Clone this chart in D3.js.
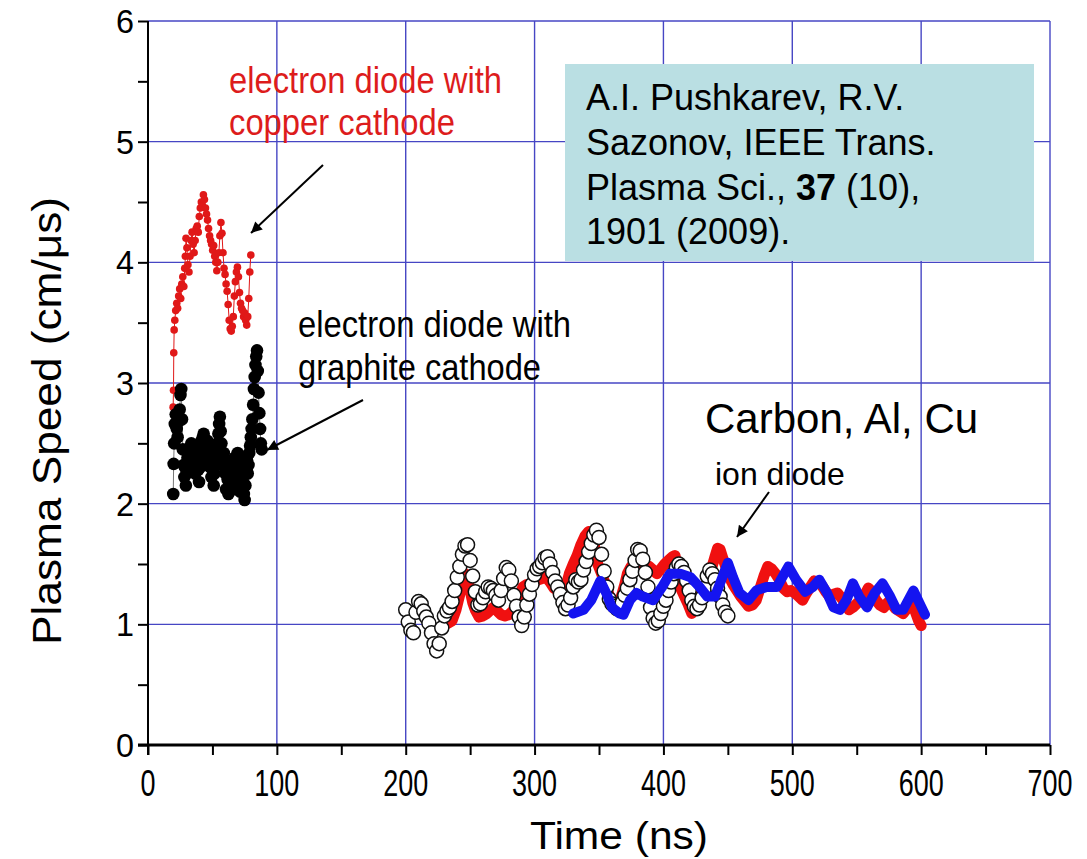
<!DOCTYPE html>
<html lang="en">
<title>Plasma Speed</title>
<meta charset="UTF-8">
<style>
body {margin:0; background:#fff}
svg {font-family: "Liberation Sans", Arial, sans-serif}
</style>
<script src="https://d3js.org/d3.v7.min.js"></script>
<body>
<div id="my_dataviz"></div>
<script>

// electron diode, copper cathode (small red dots)
var copperTime  = [19.5,19.8,20.0,20.3,20.8,21.5,22.3,23.0,23.8,24.6,25.4,26.2,27.0,27.8,28.5,29.0,29.5,30.2,31.0,31.8,32.6,33.4,34.2,35.0,35.8,36.6,37.4,38.2,39.0,39.8,40.6,41.4,42.2,43.0,43.8,44.6,45.4,46.2,47.0,47.8,48.6,49.4,50.2,51.0,51.8,52.6,53.4,54.2,55.0,55.8,56.6,57.4,58.2,59.0,59.8,60.6,61.4,62.2,63.0,63.8,64.6,65.4,66.2,67.0,67.8,68.6,69.4,70.2,71.0,71.8,72.6,73.4,74.2,75.0,75.8,76.6,77.4,78.2,79.0,79.8];
var copperSpeed = [2.80,2.94,3.25,3.44,3.52,3.60,3.66,3.62,3.72,3.78,3.70,3.82,3.88,3.80,3.95,4.05,4.20,4.12,3.98,3.92,4.05,4.18,4.25,4.15,4.08,4.18,4.28,4.30,4.25,4.38,4.45,4.50,4.47,4.56,4.52,4.45,4.40,4.35,4.28,4.22,4.18,4.15,4.10,4.14,4.05,4.00,3.93,4.00,4.08,4.22,4.33,4.24,4.08,3.95,3.90,3.82,3.76,3.65,3.52,3.45,3.43,3.47,3.55,3.72,3.84,3.92,3.96,3.88,3.75,3.66,3.62,3.60,3.55,3.58,3.52,3.48,3.55,3.70,3.92,4.06];

// electron diode, graphite cathode (big black dots)
var graphiteTime  = [19.6,19.9,20.3,20.8,21.5,22.3,23.0,23.8,24.6,25.2,25.8,26.4,27.0,27.6,28.2,28.8,29.4,30.0,30.6,31.2,31.8,32.4,33.0,33.6,34.2,34.8,35.4,36.0,36.6,37.2,37.8,38.4,39.0,39.6,40.2,40.8,41.4,42.0,42.6,43.2,43.8,44.4,45.0,45.6,46.2,46.8,47.4,48.0,48.6,49.2,49.8,50.4,51.0,51.6,52.2,52.8,53.4,54.0,54.6,55.2,55.8,56.4,57.0,57.6,58.2,58.8,59.4,60.0,60.6,61.2,61.8,62.4,63.0,63.6,64.2,64.8,65.4,66.0,66.6,67.2,67.8,68.4,69.0,69.6,70.2,70.8,71.4,72.0,72.6,73.2,73.8,74.4,75.0,75.6,76.2,76.8,77.4,78.0,78.6,79.2,79.8,80.4,81.0,81.6,82.2,82.8,83.4,84.0,84.6,85.2,85.8,86.4,87.0,87.6,88.2];
var graphiteSpeed = [2.08,2.33,2.50,2.66,2.74,2.62,2.55,2.68,2.78,2.90,2.95,2.70,2.45,2.32,2.22,2.30,2.15,2.25,2.38,2.42,2.30,2.36,2.45,2.50,2.40,2.30,2.42,2.35,2.25,2.40,2.48,2.38,2.28,2.18,2.30,2.42,2.52,2.45,2.55,2.58,2.48,2.40,2.32,2.45,2.52,2.42,2.35,2.48,2.30,2.22,2.38,2.28,2.15,2.25,2.40,2.32,2.45,2.50,2.58,2.66,2.72,2.60,2.50,2.40,2.32,2.42,2.35,2.25,2.12,2.28,2.20,2.08,2.18,2.30,2.22,2.35,2.25,2.12,2.28,2.38,2.25,2.15,2.30,2.42,2.32,2.20,2.10,2.25,2.38,2.30,2.18,2.08,2.03,2.15,2.28,2.36,2.25,2.32,2.42,2.48,2.55,2.62,2.70,2.82,2.95,3.05,3.15,3.22,3.27,3.10,2.92,2.75,2.62,2.50,2.45];

// ion diode, carbon (open circles)
var carbonTime  = [200,202,204,206,208,210,212,214,216,218,220,222,224,226,228,230,232,234,236,238,240,242,244,246,248,250,252,254,256,258,260,262,264,266,268,270,272,274,276,278,280,282,284,286,288,290,292,294,296,298,300,302,304,306,308,310,312,314,316,318,320,322,324,326,328,330,332,334,336,338,340,342,344,346,348,350,352,354,356,358,360,362,364,366,368,370,372,374,376,378,380,382,384,386,388,390,392,394,396,398,400,402,404,406,408,410,412,414,416,418,420,422,424,426,428,430,432,434,436,438,440,442,444,446,448,450];
var carbonSpeed = [1.12,1.02,0.95,0.93,1.10,1.19,1.17,1.11,1.06,1.01,0.93,0.84,0.78,0.84,0.97,1.07,1.11,1.14,1.19,1.28,1.39,1.48,1.58,1.65,1.66,1.53,1.40,1.27,1.16,1.17,1.22,1.27,1.31,1.30,1.28,1.24,1.20,1.28,1.38,1.47,1.45,1.36,1.24,1.15,1.06,0.99,1.06,1.16,1.25,1.33,1.41,1.46,1.48,1.51,1.55,1.56,1.50,1.43,1.36,1.31,1.25,1.18,1.13,1.16,1.22,1.31,1.37,1.35,1.37,1.45,1.52,1.60,1.67,1.74,1.78,1.72,1.58,1.44,1.31,1.21,1.17,1.15,1.13,1.14,1.18,1.24,1.30,1.37,1.44,1.53,1.62,1.61,1.54,1.43,1.31,1.14,1.05,1.01,1.03,1.09,1.15,1.20,1.28,1.35,1.42,1.47,1.50,1.48,1.43,1.36,1.28,1.20,1.15,1.13,1.16,1.22,1.30,1.40,1.45,1.42,1.37,1.30,1.23,1.16,1.10,1.07];

// ion diode, Cu (thick red)
var cuTime  = [233,236,239,242,244,246,248,250,252,254,257,260,263,266,268,271,274,277,280,283,285,287,289,291,294,297,300,303,306,309,312,315,318,321,324,327,330,333,336,339,342,345,347,349,352,355,358,361,364,367,370,372,375,377,380,383,386,389,392,395,398,401,404,407,409,411,413,416,419,422,424,426,429,431,434,437,440,442,444,446,448,451,454,457,460,463,466,469,472,475,478,481,484,487,490,493,496,499,502,505,508,511,514,517,520,523,526,529,532,535,538,541,544,547,550,553,556,559,562,565,568,571,574,577,580,583,586,589,592,595,598,600];
var cuSpeed = [1.01,1.03,1.12,1.25,1.38,1.42,1.38,1.28,1.18,1.12,1.06,1.07,1.09,1.12,1.14,1.11,1.08,1.07,1.08,1.11,1.14,1.20,1.26,1.31,1.33,1.33,1.35,1.37,1.38,1.39,1.35,1.30,1.28,1.28,1.30,1.42,1.50,1.57,1.66,1.73,1.77,1.74,1.62,1.50,1.42,1.33,1.24,1.19,1.17,1.22,1.33,1.42,1.48,1.50,1.47,1.45,1.47,1.48,1.45,1.42,1.46,1.50,1.53,1.56,1.57,1.46,1.31,1.24,1.17,1.09,1.15,1.20,1.25,1.28,1.36,1.45,1.56,1.63,1.62,1.55,1.49,1.39,1.33,1.28,1.23,1.19,1.15,1.16,1.20,1.30,1.40,1.48,1.46,1.42,1.37,1.30,1.27,1.28,1.26,1.23,1.20,1.26,1.31,1.36,1.35,1.32,1.27,1.23,1.25,1.26,1.22,1.18,1.12,1.14,1.17,1.20,1.24,1.30,1.27,1.20,1.16,1.14,1.18,1.17,1.13,1.11,1.09,1.13,1.17,1.12,1.03,0.99];

// ion diode, Al (thick blue)
var alTime  = [330,338,344,351,356,360,366,369,374,379,384,392,399,405,413,421,428,434,440,445,450,454,459,466,472,480,488,497,503,510,516,521,527,532,537,542,547,552,558,564,570,576,581,586,594,599,603];
var alSpeed = [1.09,1.12,1.20,1.36,1.25,1.14,1.09,1.08,1.20,1.26,1.23,1.20,1.31,1.42,1.42,1.39,1.31,1.23,1.23,1.37,1.51,1.39,1.26,1.20,1.28,1.31,1.31,1.48,1.37,1.27,1.31,1.37,1.26,1.14,1.12,1.20,1.34,1.23,1.14,1.26,1.34,1.23,1.12,1.12,1.28,1.17,1.08];

var xTicks = [0,100,200,300,400,500,600,700];
var yTicks = [0,1,2,3,4,5,6];

var width = 1087, height = 859;
var svg = d3.select("#my_dataviz").append("svg")
    .attr("width", width).attr("height", height);

var x = d3.scaleLinear().domain([0,700]).range([148,1050]);
var y = d3.scaleLinear().domain([0,6]).range([745,21]);

// grid
var grid = "#4646c4";
svg.selectAll("line.vg").data(xTicks.slice(1)).enter().append("line")
    .attr("x1", d => x(d)).attr("x2", d => x(d)).attr("y1", y(0)).attr("y2", y(6))
    .style("stroke", grid).style("stroke-width", 1.4);
svg.selectAll("line.hg").data(yTicks.slice(1)).enter().append("line")
    .attr("x1", x(0)).attr("x2", x(700)).attr("y1", d => y(d)).attr("y2", d => y(d))
    .style("stroke", grid).style("stroke-width", 1.4);

// axes
var xAxis = svg.append("g").attr("transform", "translate(0," + y(0) + ")")
    .call(d3.axisBottom(x).tickValues(d3.range(0, 701, 50)).tickSize(10).tickFormat(""));
var yAxis = svg.append("g").attr("transform", "translate(" + x(0) + ",0)")
    .call(d3.axisLeft(y).tickValues(d3.range(0, 6.01, 0.5)).tickSize(10).tickFormat(""));
xAxis.select(".domain").attr("d", "M" + (x(0) - 10) + ",0H" + x(700)).style("stroke-width", 3);
yAxis.select(".domain").attr("d", "M0," + (y(0) + 10) + "V" + y(6)).style("stroke-width", 2);
svg.selectAll(".tick line").style("stroke-width", 2);

svg.selectAll("text.xt").data(xTicks).enter().append("text")
    .attr("x", d => x(d)).attr("y", 796).attr("text-anchor", "middle")
    .attr("textLength", d => String(d).length * 15).attr("lengthAdjust", "spacingAndGlyphs")
    .style("font-size", "36px").text(d => d);
svg.selectAll("text.yt").data(yTicks).enter().append("text")
    .attr("x", 134).attr("y", d => y(d) + 12).attr("text-anchor", "end")
    .attr("textLength", 18).attr("lengthAdjust", "spacingAndGlyphs")
    .style("font-size", "33px").text(d => d);

// axis titles
svg.append("text").attr("transform", "translate(61,421) rotate(-90)")
    .attr("text-anchor", "middle").attr("textLength", 448).attr("lengthAdjust", "spacingAndGlyphs")
    .style("font-size", "40px").text("Plasma Speed (cm/\u03bcs)");
svg.append("text").attr("x", 619).attr("y", 849).attr("text-anchor", "middle")
    .attr("textLength", 178).attr("lengthAdjust", "spacingAndGlyphs")
    .style("font-size", "39px").text("Time (ns)");

function pts(t, v) { return t.map(function(d, i) { return [d, v[i]]; }); }
var line = d3.line().x(d => x(d[0])).y(d => y(d[1]));

// ion diode Cu
svg.append("path").datum(pts(cuTime, cuSpeed)).attr("d", line)
    .style("fill", "none").style("stroke", "#f01010").style("stroke-width", 11)
    .style("stroke-linejoin", "round").style("stroke-linecap", "round");

// ion diode carbon
svg.selectAll("circle.c").data(pts(carbonTime, carbonSpeed)).enter().append("circle")
    .attr("cx", d => x(d[0])).attr("cy", d => y(d[1])).attr("r", 7)
    .style("fill", "#fff").style("stroke", "#111").style("stroke-width", 1.5);

// ion diode Al
svg.append("path").datum(pts(alTime, alSpeed)).attr("d", line)
    .style("fill", "none").style("stroke", "#1414f0").style("stroke-width", 10)
    .style("stroke-linejoin", "round").style("stroke-linecap", "round");

// copper cathode
svg.append("path").datum(pts(copperTime, copperSpeed)).attr("d", line)
    .style("fill", "none").style("stroke", "#e01818").style("stroke-width", 1);
svg.selectAll("circle.cu").data(pts(copperTime, copperSpeed)).enter().append("circle")
    .attr("cx", d => x(d[0])).attr("cy", d => y(d[1])).attr("r", 3.8).style("fill", "#e01818");

// graphite cathode
svg.append("path").datum(pts(graphiteTime, graphiteSpeed)).attr("d", line)
    .style("fill", "none").style("stroke", "#777").style("stroke-width", 1);
svg.selectAll("circle.gr").data(pts(graphiteTime, graphiteSpeed)).enter().append("circle")
    .attr("cx", d => x(d[0])).attr("cy", d => y(d[1])).attr("r", 6.3).style("fill", "#000");

// arrows
svg.append("defs").append("marker").attr("id", "head")
    .attr("viewBox", "0 0 10 10").attr("refX", 10).attr("refY", 5)
    .attr("markerWidth", 20).attr("markerHeight", 11).attr("markerUnits", "userSpaceOnUse")
    .attr("orient", "auto")
  .append("path").attr("d", "M0,0L10,5L0,10z").style("fill", "#000");
var arrows = [[323,165,251,233],[363,400,267,450],[769,492,737,537]];
svg.selectAll("line.ar").data(arrows).enter().append("line")
    .attr("x1", d => d[0]).attr("y1", d => d[1]).attr("x2", d => d[2]).attr("y2", d => d[3])
    .style("stroke", "#000").style("stroke-width", 2).attr("marker-end", "url(#head)");

// labels
function label(txt, px, py, size, len, color) {
  var t = svg.append("text").attr("x", px).attr("y", py).style("font-size", size + "px")
      .style("fill", color || "#000").text(txt);
  if (len) t.attr("textLength", len).attr("lengthAdjust", "spacingAndGlyphs");
}
label("electron diode with", 229, 93, 36, 273, "#dd1c1c");
label("copper cathode", 229, 135, 36, 226, "#dd1c1c");
label("electron diode with", 298, 337, 36, 273);
label("graphite cathode", 298, 380, 36, 243);
label("Carbon, Al, Cu", 705, 433, 42);
label("ion diode", 715, 485, 32);

// reference box
svg.append("rect").attr("x", 565).attr("y", 64).attr("width", 469).attr("height", 197)
    .style("fill", "#badfe3");
var ref = svg.append("g").style("font-size", "36px");
ref.append("text").attr("x", 586).attr("y", 110).text("A.I. Pushkarev, R.V.");
ref.append("text").attr("x", 586).attr("y", 155).text("Sazonov, IEEE Trans.");
var l3 = ref.append("text").attr("x", 586).attr("y", 200);
l3.append("tspan").text("Plasma Sci., ");
l3.append("tspan").style("font-weight", "bold").text("37");
l3.append("tspan").text(" (10),");
ref.append("text").attr("x", 586).attr("y", 244).text("1901 (2009).");

</script>
</body>
</html>
